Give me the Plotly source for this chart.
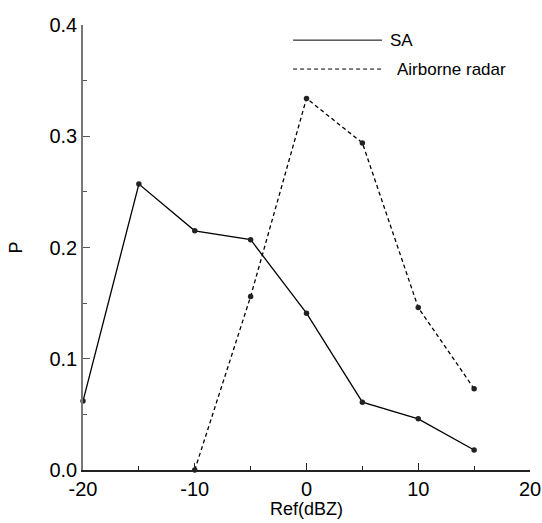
import plotly.graph_objects as go

# Reflectivity bins (dBZ) and probability for each instrument
ref_dbz = [-20, -15, -10, -5, 0, 5, 10, 15]
p_sa = [0.062, 0.257, 0.215, 0.207, 0.141, 0.061, 0.046, 0.018]
ref_air = [-10, -5, 0, 5, 10, 15]
p_air = [0.0, 0.156, 0.334, 0.294, 0.146, 0.073]

x_ticks = [-20, -10, 0, 10, 20]
y_ticks = [0.0, 0.1, 0.2, 0.3, 0.4]

FONT = "Liberation Sans, Arial, sans-serif"
DASH = "4px,3px"

fig = go.Figure()
fig.add_trace(go.Scatter(
    x=ref_dbz, y=p_sa, mode="lines+markers", name="SA",
    line=dict(color="black", width=1.3),
    marker=dict(color="#222", size=5.5),
    cliponaxis=False,
))
fig.add_trace(go.Scatter(
    x=ref_air, y=p_air, mode="lines+markers", name="Airborne radar",
    line=dict(color="black", width=1.3, dash=DASH),
    marker=dict(color="#222", size=5.5),
    cliponaxis=False,
))

# Hand-drawn legend in the upper part of the plot
legend_items = [("SA", "solid", 0.966, 0.682), ("Airborne radar", DASH, 0.901, 0.699)]
for label, dash, yy, xt in legend_items:
    fig.add_shape(type="line", xref="paper", yref="paper",
                  x0=0.47, x1=0.669, y0=yy, y1=yy,
                  line=dict(color="black", width=1, dash=dash))
    fig.add_annotation(text=label, xref="paper", yref="paper",
                       x=xt, y=yy, xanchor="left", yanchor="middle", showarrow=False,
                       font=dict(family=FONT, size=17, color="black"))

# Axis titles
fig.add_annotation(text="Ref(dBZ)", xref="paper", yref="paper", x=0.5, y=-0.088,
                   xanchor="center", yanchor="middle", showarrow=False,
                   font=dict(family=FONT, size=18, color="black"))
fig.add_annotation(text="P", xref="paper", yref="paper", x=-0.15, y=0.5,
                   textangle=-90, xanchor="center", yanchor="middle", showarrow=False,
                   font=dict(family=FONT, size=18, color="black"))

fig.update_layout(
    template="none",
    width=542, height=523,
    margin=dict(l=83, r=12, t=25, b=53),
    paper_bgcolor="white", plot_bgcolor="white",
    showlegend=False,
    font=dict(family=FONT, color="black"),
)
fig.update_xaxes(
    range=[-20, 20], tickvals=x_ticks, ticktext=[str(v) for v in x_ticks],
    automargin=False,
    showgrid=False, zeroline=False, showline=True, linecolor="#222", linewidth=1.5,
    ticks="inside", ticklen=7, tickcolor="#222", tickwidth=1,
    minor=dict(ticks="inside", ticklen=4, dtick=5, tick0=-20, tickcolor="#222", showgrid=False),
    tickfont=dict(size=20, family=FONT, color="black"),
)
fig.update_yaxes(
    range=[0, 0.4], tickvals=y_ticks, ticktext=[f"{v:.1f}" for v in y_ticks],
    automargin=False,
    showgrid=False, zeroline=False, showline=True, linecolor="#777", linewidth=1.5,
    ticks="inside", ticklen=7, tickcolor="#555", tickwidth=1,
    minor=dict(ticks="inside", ticklen=4, dtick=0.05, tick0=0, tickcolor="#555", showgrid=False),
    tickfont=dict(size=20, family=FONT, color="black"),
)

fig.write_html("out.html")
